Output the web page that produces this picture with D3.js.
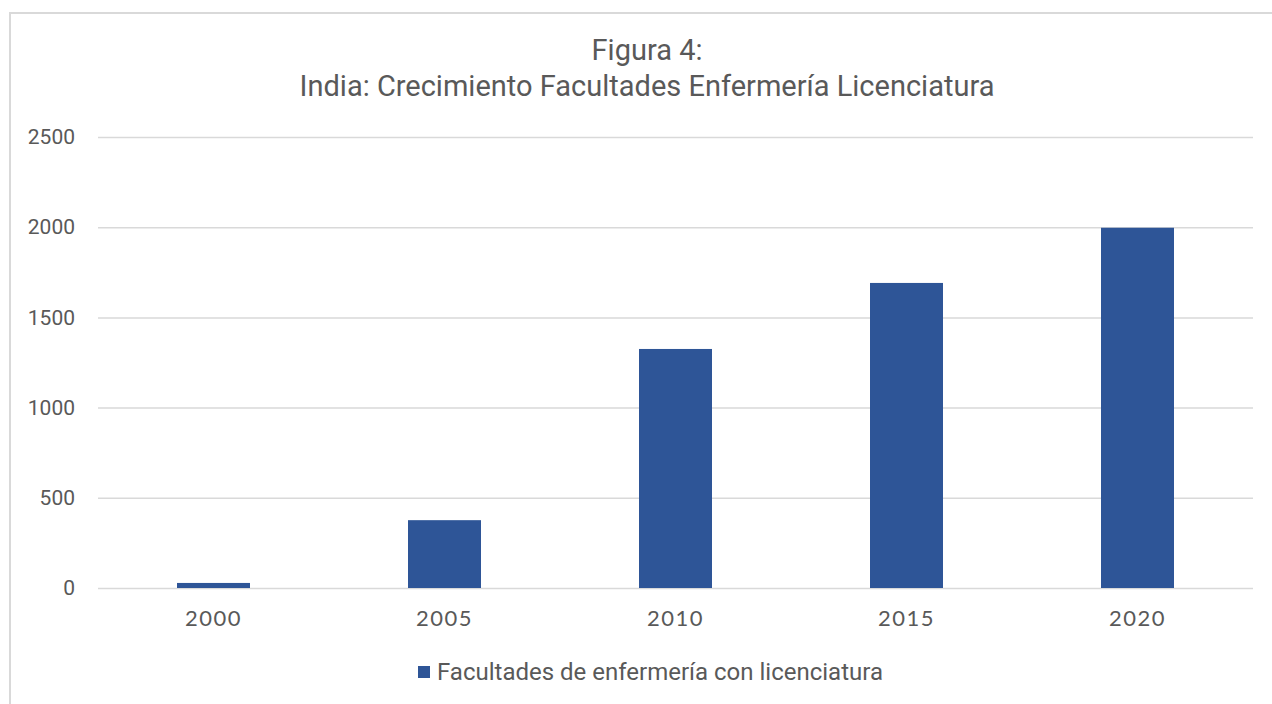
<!DOCTYPE html>
<html>
<head>
<meta charset="utf-8">
<script src="https://cdn.jsdelivr.net/npm/d3@7"></script>
<style>
  body { margin: 0; background: #fff; }
</style>
</head>
<body>
<div id="chart"></div>
<script>
// data
var years = ["2000", "2005", "2010", "2015", "2020"];
var facultades = [28, 376, 1325, 1691, 1997];
var yTicks = [0, 500, 1000, 1500, 2000, 2500];
var titleLines = ["Figura 4:", "India: Crecimiento Facultades Enfermería Licenciatura"];
var seriesName = "Facultades de enfermería con licenciatura";

var W = 1272, H = 704;
var margin = {top: 137, right: 19, bottom: 116, left: 98};
var width = W - margin.left - margin.right,
    height = H - margin.top - margin.bottom;
var barColor = "#2e5597", textColor = "#595959", gridColor = "#d9d9d9";

var svg = d3.select("#chart").append("svg")
    .attr("width", W)
    .attr("height", H);

// chart area border (only left/top visible in the crop)
svg.append("rect")
    .attr("x", 10).attr("y", 13)
    .attr("width", W + 20).attr("height", H + 20)
    .style("fill", "none")
    .style("stroke", gridColor)
    .style("stroke-width", 2);

// title
svg.append("g").selectAll("text")
    .data(titleLines)
    .enter().append("text")
    .attr("x", 647)
    .attr("y", function(d, i) { return 60 + i * 36; })
    .attr("text-anchor", "middle")
    .style("font-family", "Roboto")
    .style("font-size", "29px")
    .style("fill", textColor)
    .text(function(d) { return d; });

var g = svg.append("g").attr("transform", "translate(" + margin.left + "," + margin.top + ")");

var x = d3.scaleBand().domain(years).range([0, width])
    .paddingInner(0.684).paddingOuter(0.342);
var y = d3.scaleLinear().domain([0, 2500]).range([height, 0]);

// gridlines + y labels
var yAxis = d3.axisLeft(y).tickValues(yTicks).tickFormat(d3.format("d"))
    .tickSize(-width).tickPadding(23);
g.append("g").call(yAxis)
    .call(function(a) {
        a.select(".domain").remove();
        a.selectAll("line").style("stroke", gridColor).style("stroke-width", 1.5);
        a.selectAll("text")
            .style("font-family", "Roboto")
            .style("font-size", "21px")
            .style("fill", textColor);
    });

// bars
g.selectAll(".bar")
    .data(facultades)
    .enter().append("rect")
    .attr("class", "bar")
    .attr("x", function(d, i) { return x(years[i]); })
    .attr("width", x.bandwidth())
    .attr("y", function(d) { return y(d); })
    .attr("height", function(d) { return height - y(d); })
    .style("fill", barColor);

// x axis labels
var xAxis = d3.axisBottom(x).tickSize(0).tickPadding(22);
g.append("g").attr("transform", "translate(0," + height + ")").call(xAxis)
    .call(function(a) {
        a.select(".domain").remove();
        a.selectAll("text")
            .style("font-family", "Lato")
            .style("font-size", "22px")
            .style("letter-spacing", "1.5px")
            .style("fill", textColor);
    });

// legend
var leg = svg.append("g").attr("transform", "translate(418,666)");
leg.append("rect").attr("width", 12).attr("height", 12).style("fill", barColor);
leg.append("text")
    .attr("x", 19).attr("y", 14)
    .style("font-family", "Roboto")
    .style("font-size", "24px")
    .style("fill", textColor)
    .text(seriesName);
</script>
</body>
</html>
